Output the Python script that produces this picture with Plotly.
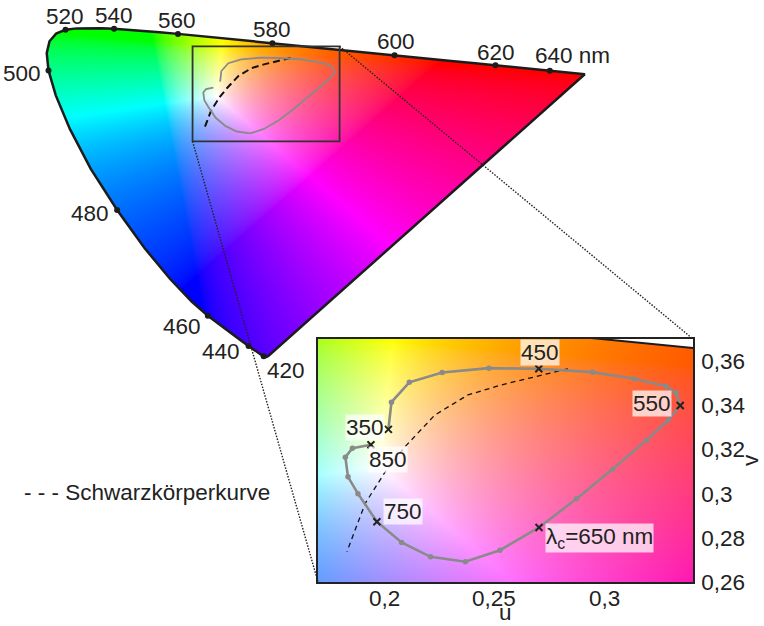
import base64
import struct
import zlib

import numpy as np
import plotly.graph_objects as go

# CIE 1931 2° spectral locus (chromaticity x, y)
WAVELENGTH_NM = [380, 385, 390, 395, 400, 405, 410, 415, 420, 425, 430, 435, 440, 445,
                 450, 455, 460, 465, 470, 475, 480, 485, 490, 495, 500, 505, 510, 515,
                 520, 525, 530, 535, 540, 545, 550, 555, 560, 565, 570, 575, 580, 585,
                 590, 595, 600, 605, 610, 615, 620, 625, 630, 635, 640, 645, 650, 660,
                 670, 680, 690, 700]
CIE_X = [0.17411, 0.17401, 0.17380, 0.17356, 0.17334, 0.17302, 0.17258, 0.17209, 0.17141,
         0.17030, 0.16888, 0.16690, 0.16441, 0.16110, 0.15664, 0.15099, 0.14396, 0.13550,
         0.12412, 0.10959, 0.09129, 0.06871, 0.04539, 0.02346, 0.00817, 0.00386, 0.01387,
         0.03885, 0.07430, 0.11416, 0.15472, 0.19288, 0.22962, 0.26578, 0.30160, 0.33736,
         0.37310, 0.40874, 0.44406, 0.47877, 0.51249, 0.54479, 0.57515, 0.60293, 0.62704,
         0.64823, 0.66576, 0.68008, 0.69150, 0.70061, 0.70792, 0.71403, 0.71903, 0.72303,
         0.72599, 0.73002, 0.73199, 0.73342, 0.73469, 0.73469]
CIE_Y = [0.00496, 0.00498, 0.00492, 0.00492, 0.00480, 0.00478, 0.00480, 0.00483, 0.00510,
         0.00579, 0.00690, 0.00856, 0.01086, 0.01379, 0.01771, 0.02274, 0.02970, 0.03988,
         0.05780, 0.08684, 0.13270, 0.20072, 0.29498, 0.41270, 0.53842, 0.65482, 0.75019,
         0.81202, 0.83380, 0.82621, 0.80586, 0.78163, 0.75433, 0.72432, 0.69231, 0.65885,
         0.62445, 0.58961, 0.55471, 0.52020, 0.48659, 0.45443, 0.42423, 0.39650, 0.37249,
         0.35139, 0.33401, 0.31975, 0.30834, 0.29930, 0.29203, 0.28593, 0.28093, 0.27695,
         0.27401, 0.26998, 0.26801, 0.26658, 0.26531, 0.26531]

# wavelengths marked with a dot and a label on the locus
MARKED_NM = [420, 440, 460, 480, 500, 520, 540, 560, 580, 600, 620, 640]

# black-body (Planckian) locus, CIE 1960 u, v
PLANCK_U = [0.2833, 0.2651, 0.2538, 0.2380, 0.2230, 0.2097, 0.2012, 0.1914, 0.1831]
PLANCK_V = [0.3565, 0.3522, 0.3494, 0.3447, 0.3356, 0.3215, 0.3110, 0.2956, 0.2737]

# colour loop, parameter in nm, CIE 1960 u, v
LOOP_NM = [350, 370, 390, 410, 430, 450, 470, 490, 510, 530, 550, 570, 590,
           610, 630, 650, 670, 690, 710, 730, 750, 770, 790, 810, 830, 850]
LOOP_U = [0.2019, 0.2033, 0.2114, 0.2263, 0.2475, 0.2701, 0.2945, 0.3134, 0.3278,
          0.3324, 0.3342, 0.3287, 0.3188, 0.3035, 0.2872, 0.2702, 0.2525, 0.2368,
          0.2210, 0.2079, 0.1967, 0.1881, 0.1836, 0.1824, 0.1856, 0.1940]
LOOP_V = [0.3291, 0.3414, 0.3504, 0.3548, 0.3568, 0.3565, 0.3550, 0.3520, 0.3486,
          0.3455, 0.3399, 0.3333, 0.3241, 0.3110, 0.2977, 0.2847, 0.2744, 0.2692,
          0.2714, 0.2779, 0.2873, 0.3000, 0.3076, 0.3165, 0.3206, 0.3221]
LOOP_LABELED_NM = [350, 450, 550, 650, 750, 850]

# zoom window (u, v)
ZOOM_U = [0.17, 0.34]
ZOOM_V = [0.26, 0.37]

U_TICKS = [0.2, 0.25, 0.3]
U_TICKTEXT = ["0,2", "0,25", "0,3"]
V_TICKS = [0.26, 0.28, 0.3, 0.32, 0.34, 0.36]
V_TICKTEXT = ["0,26", "0,28", "0,3", "0,32", "0,34", "0,36"]

LEGEND_TEXT = "- - - Schwarzkörperkurve"

FONT = "Liberation Sans, Arial, sans-serif"
INK = "#222222"
GREY = "#8a8a8a"
FS = 22.5

W, H = 764, 626
MAIN_X_RANGE = [-0.0526, 0.8306]
MAIN_Y_RANGE = [-0.3009, 0.4236]
INSET_DOMAIN_X = [318 / W, 693 / W]
INSET_DOMAIN_Y = [1 - 582 / H, 1 - 339 / H]


def xy_to_uv(x, y):
    x = np.asarray(x, float)
    y = np.asarray(y, float)
    d = -2 * x + 12 * y + 3
    return 4 * x / d, 6 * y / d


LOCUS_U, LOCUS_V = xy_to_uv(CIE_X, CIE_Y)


def inside_polygon(px, py, qx, qy):
    res = np.zeros(px.shape, bool)
    n = len(qx)
    for i in range(n):
        x1, y1 = qx[i], qy[i]
        x2, y2 = qx[(i + 1) % n], qy[(i + 1) % n]
        if y1 == y2:
            continue
        crosses = (y1 > py) != (y2 > py)
        xint = (x2 - x1) * (py - y1) / (y2 - y1) + x1
        res ^= crosses & (px < xint)
    return res


def chroma_image(u0, u1, v0, v1, w, h):
    uu = u0 + (np.arange(w) + 0.5) / w * (u1 - u0)
    vv = v1 - (np.arange(h) + 0.5) / h * (v1 - v0)
    U, V = np.meshgrid(uu, vv)
    with np.errstate(divide="ignore", invalid="ignore"):
        d = 2 * U - 8 * V + 4
        x = 3 * U / d
        y = 2 * V / d
        X = x / y
        Z = (1 - x - y) / y
        r = 3.2406 * X - 1.5372 - 0.4986 * Z
        g = -0.9689 * X + 1.8758 + 0.0415 * Z
        b = 0.0557 * X - 0.2040 + 1.0570 * Z
        rgb = np.clip(np.stack([r, g, b], -1), 0, None)
        rgb = rgb / rgb.max(-1, keepdims=True)
        rgb = np.nan_to_num(rgb)
        enc = np.power(rgb, 1 / 1.7)
    inside = inside_polygon(U, V, LOCUS_U, LOCUS_V)
    rgba = np.zeros((h, w, 4), np.uint8)
    rgba[..., :3] = np.clip(enc * 255 + 0.5, 0, 255).astype(np.uint8)
    rgba[..., 3] = np.where(inside, 255, 0)
    return png_uri(rgba)


def png_uri(rgba):
    h, w, _ = rgba.shape
    raw = b"".join(b"\x00" + rgba[r].tobytes() for r in range(h))

    def chunk(tag, data):
        c = struct.pack(">I", len(data)) + tag + data
        return c + struct.pack(">I", zlib.crc32(tag + data) & 0xFFFFFFFF)

    ihdr = struct.pack(">IIBBBBB", w, h, 8, 6, 0, 0, 0)
    png = (b"\x89PNG\r\n\x1a\n" + chunk(b"IHDR", ihdr)
           + chunk(b"IDAT", zlib.compress(raw, 9)) + chunk(b"IEND", b""))
    return "data:image/png;base64," + base64.b64encode(png).decode()


# pixel scale of the main axes
px_u = W / (MAIN_X_RANGE[1] - MAIN_X_RANGE[0])
px_v = H / (MAIN_Y_RANGE[1] - MAIN_Y_RANGE[0])

img_u = [0.0, float(LOCUS_U.max()) + 0.005]
img_v = [0.0, float(LOCUS_V.max()) + 0.005]
main_img = chroma_image(img_u[0], img_u[1], img_v[0], img_v[1],
                        int(round((img_u[1] - img_u[0]) * px_u)),
                        int(round((img_v[1] - img_v[0]) * px_v)))
inset_w = int(round((INSET_DOMAIN_X[1] - INSET_DOMAIN_X[0]) * W))
inset_h = int(round((INSET_DOMAIN_Y[1] - INSET_DOMAIN_Y[0]) * H))
inset_img = chroma_image(ZOOM_U[0], ZOOM_U[1], ZOOM_V[0], ZOOM_V[1], inset_w, inset_h)

fig = go.Figure()

locus_u_closed = list(LOCUS_U) + [LOCUS_U[0]]
locus_v_closed = list(LOCUS_V) + [LOCUS_V[0]]

# main diagram
fig.add_trace(go.Scatter(x=locus_u_closed, y=locus_v_closed, mode="lines",
                         line=dict(color="#1c1c1c", width=2.5), hoverinfo="skip"))
mark_idx = [WAVELENGTH_NM.index(nm) for nm in MARKED_NM]
fig.add_trace(go.Scatter(x=LOCUS_U[mark_idx], y=LOCUS_V[mark_idx], mode="markers",
                         marker=dict(color="#1c1c1c", size=6), hoverinfo="skip"))
fig.add_trace(go.Scatter(x=PLANCK_U, y=PLANCK_V, mode="lines",
                         line=dict(color="#111", width=2, dash="7px,4px"), hoverinfo="skip"))
fig.add_trace(go.Scatter(x=LOOP_U, y=LOOP_V, mode="lines",
                         line=dict(color=GREY, width=1.8), hoverinfo="skip"))

# zoomed inset
fig.add_trace(go.Scatter(x=locus_u_closed, y=locus_v_closed, mode="lines", xaxis="x2", yaxis="y2",
                         line=dict(color="#1c1c1c", width=2), hoverinfo="skip"))
fig.add_trace(go.Scatter(x=PLANCK_U, y=PLANCK_V, mode="lines", xaxis="x2", yaxis="y2",
                         line=dict(color="#111", width=1.3, dash="5px,4px"), hoverinfo="skip"))
dot_u = [u for nm, u in zip(LOOP_NM, LOOP_U) if nm not in LOOP_LABELED_NM]
dot_v = [v for nm, v in zip(LOOP_NM, LOOP_V) if nm not in LOOP_LABELED_NM]
fig.add_trace(go.Scatter(x=LOOP_U, y=LOOP_V, mode="lines", xaxis="x2", yaxis="y2",
                         line=dict(color=GREY, width=2.6), hoverinfo="skip"))
fig.add_trace(go.Scatter(x=dot_u, y=dot_v, mode="markers", xaxis="x2", yaxis="y2",
                         marker=dict(color=GREY, size=5.5), hoverinfo="skip"))
lab_u = [u for nm, u in zip(LOOP_NM, LOOP_U) if nm in LOOP_LABELED_NM]
lab_v = [v for nm, v in zip(LOOP_NM, LOOP_V) if nm in LOOP_LABELED_NM]
fig.add_trace(go.Scatter(x=lab_u, y=lab_v, mode="markers", xaxis="x2", yaxis="y2",
                         marker=dict(symbol="x-thin", size=7, color=INK,
                                     line=dict(color=INK, width=2)), hoverinfo="skip"))

annotations = []
# wavelength labels: (text, xanchor, xshift, yshift)
mark_style = {
    420: ("420", "left", 1, -14),
    440: ("440", "right", -7, -6),
    460: ("460", "right", -5, -11),
    480: ("480", "right", -6, -3),
    500: ("500", "right", -5, -3),
    520: ("520", "center", -1, 13),
    540: ("540", "center", 0, 13),
    560: ("560", "center", -1, 13),
    580: ("580", "center", 0, 14),
    600: ("600", "center", 1, 14),
    620: ("620", "center", 0, 13),
    640: ("640 nm", "left", -17, 15),
}
for nm in MARKED_NM:
    text, xa, xs, ys = mark_style[nm]
    i = WAVELENGTH_NM.index(nm)
    annotations.append(dict(x=float(LOCUS_U[i]), y=float(LOCUS_V[i]), xref="x", yref="y",
                            text=text, showarrow=False, xanchor=xa, yanchor="middle",
                            xshift=xs, yshift=ys, font=dict(size=FS, color=INK, family=FONT)))

loop_style = {
    350: ("350", "right", -3, 2),
    450: ("450", "center", 1, 16),
    550: ("550", "right", -8, 2),
    650: ("λ<sub>c</sub>=650 nm", "left", 6, -11),
    750: ("750", "left", 6, 10),
    850: ("850", "left", -3, -15),
}
for nm in LOOP_LABELED_NM:
    text, xa, xs, ys = loop_style[nm]
    i = LOOP_NM.index(nm)
    annotations.append(dict(x=LOOP_U[i], y=LOOP_V[i], xref="x2", yref="y2",
                            text=text, showarrow=False, xanchor=xa, yanchor="middle",
                            xshift=xs, yshift=ys, bgcolor="rgba(255,255,255,0.72)",
                            borderpad=0, font=dict(size=FS, color=INK, family=FONT)))

annotations.append(dict(x=22 / W, y=1 - 492 / H, xref="paper", yref="paper", text=LEGEND_TEXT,
                        showarrow=False, xanchor="left", yanchor="middle",
                        font=dict(size=FS, color=INK, family=FONT)))

# u tick labels of the inset
for tv, tt in zip(U_TICKS, U_TICKTEXT):
    annotations.append(dict(x=tv, y=INSET_DOMAIN_Y[0], xref="x2", yref="paper", text=tt,
                            showarrow=False, xanchor="center", yanchor="middle", yshift=-16,
                            borderpad=0, font=dict(size=FS, color=INK, family=FONT)))

# axis titles of the inset
annotations.append(dict(x=sum(INSET_DOMAIN_X) / 2, y=0, xref="paper", yref="paper",
                        text="u", showarrow=False, xanchor="center", yanchor="bottom",
                        borderpad=0, font=dict(size=FS, color=INK, family=FONT)))
annotations.append(dict(x=1, y=sum(INSET_DOMAIN_Y) / 2, xref="paper", yref="paper",
                        text="v", showarrow=False, xanchor="right", yanchor="middle",
                        borderpad=0, textangle=-90, font=dict(size=FS, color=INK, family=FONT)))


def paper_to_main(px, py):
    return (MAIN_X_RANGE[0] + px * (MAIN_X_RANGE[1] - MAIN_X_RANGE[0]),
            MAIN_Y_RANGE[0] + py * (MAIN_Y_RANGE[1] - MAIN_Y_RANGE[0]))


inset_bl = paper_to_main(INSET_DOMAIN_X[0], INSET_DOMAIN_Y[0])
inset_tr = paper_to_main(INSET_DOMAIN_X[1], INSET_DOMAIN_Y[1])

shapes = [
    dict(type="rect", xref="x", yref="y", x0=ZOOM_U[0], x1=ZOOM_U[1], y0=ZOOM_V[0], y1=ZOOM_V[1],
         line=dict(color="#333", width=1.8)),
    dict(type="line", xref="x", yref="y", x0=ZOOM_U[0], y0=ZOOM_V[0], x1=inset_bl[0], y1=inset_bl[1],
         line=dict(color=INK, width=1.4, dash="1.5px,1.5px")),
    dict(type="line", xref="x", yref="y", x0=ZOOM_U[1], y0=ZOOM_V[1], x1=inset_tr[0], y1=inset_tr[1],
         line=dict(color=INK, width=1.4, dash="1.5px,1.5px")),
]

images = [
    dict(source=main_img, xref="x", yref="y", x=img_u[0], y=img_v[1],
         sizex=img_u[1] - img_u[0], sizey=img_v[1] - img_v[0], sizing="stretch", layer="below"),
    dict(source=inset_img, xref="x2", yref="y2", x=ZOOM_U[0], y=ZOOM_V[1],
         sizex=ZOOM_U[1] - ZOOM_U[0], sizey=ZOOM_V[1] - ZOOM_V[0], sizing="stretch", layer="below"),
]

fig.update_layout(
    width=W, height=H, margin=dict(l=0, r=0, t=0, b=0, autoexpand=False),
    paper_bgcolor="white", plot_bgcolor="rgba(0,0,0,0)",
    showlegend=False, font=dict(family=FONT, color=INK),
    xaxis=dict(domain=[0, 1], range=MAIN_X_RANGE, visible=False, fixedrange=True, automargin=False),
    yaxis=dict(domain=[0, 1], range=MAIN_Y_RANGE, visible=False, fixedrange=True, automargin=False),
    xaxis2=dict(domain=INSET_DOMAIN_X, range=ZOOM_U, anchor="y2", showgrid=False, zeroline=False,
                showline=True, mirror=True, linecolor=INK, linewidth=1.6, ticks="",
                showticklabels=False, automargin=False, fixedrange=True),
    yaxis2=dict(domain=INSET_DOMAIN_Y, range=ZOOM_V, anchor="x2", side="right", showgrid=False,
                zeroline=False, showline=True, mirror=True, linecolor=INK, linewidth=1.6, ticks="",
                tickvals=V_TICKS, ticktext=V_TICKTEXT, ticklabelstandoff=2, automargin=False,
                tickfont=dict(size=FS, color=INK), fixedrange=True),
    annotations=annotations, shapes=shapes, images=images,
)

fig.write_html("out.html")
